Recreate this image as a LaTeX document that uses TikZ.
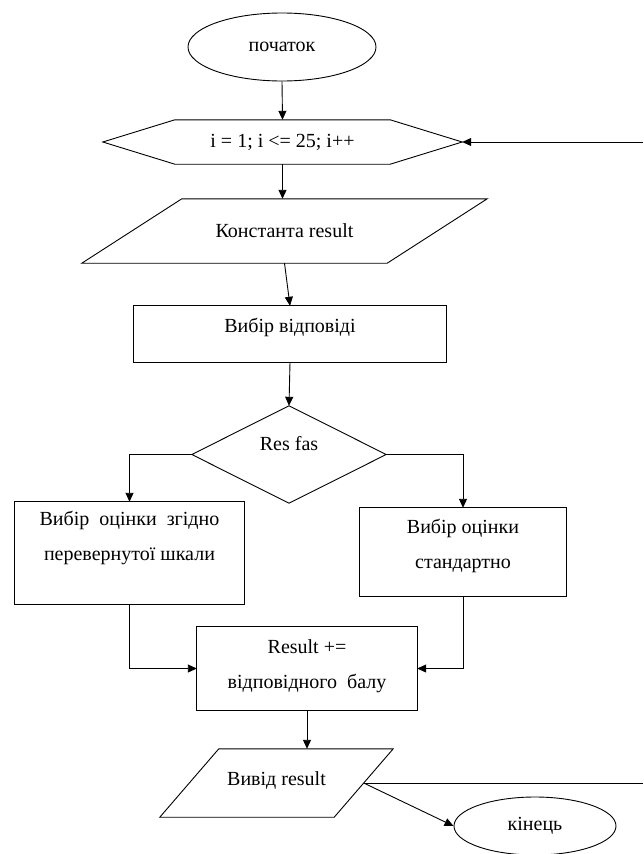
\documentclass[tikz,border=0pt]{standalone}
\usepackage{fontspec}
\setmainfont{Liberation Serif}
\usetikzlibrary{shapes.geometric,arrows.meta,calc}
\newcommand{\liftby}[2]{\raisebox{#1}[\height][\depth]{#2}}
\begin{document}
\begin{tikzpicture}[x=1pt,y=-1pt,
  every node/.style={font=\fontsize{20}{35}\selectfont},
  frame/.style={draw=none,inner sep=0pt,align=center},
  ln/.style={line width=0.9pt},
  arr/.style={ln,-{Triangle[length=9pt,width=8pt]}},
  oval/.style={ellipse,draw,ln,inner sep=0pt}]
\useasboundingbox[fill=white] (0,0) rectangle (643,854);
% nodes
\node[oval,minimum width=188pt,minimum height=68pt] (start) at (282,47) {початок};
\node[frame,minimum width=359pt,minimum height=44pt] (hex) at (282.5,142) {i = 1; i <= 25; i++};
\node[frame,minimum width=405pt,minimum height=64pt] (p1) at (284.5,231) {Константа result};
\node[frame,minimum width=312pt,minimum height=56pt] (r1) at (290,334) {\liftby{6.5pt}{Вибір відповіді}};
\node[frame,minimum width=194pt,minimum height=97pt] (d) at (289,454.5) {\liftby{10.5pt}{Res fas}};
\node[frame,minimum width=229pt,minimum height=102pt] (L) at (129.5,553) {\liftby{17pt}{\begin{tabular}{@{}c@{}}Вибір\ \ оцінки\ \ згідно\\перевернутої шкали\end{tabular}}};
\node[frame,minimum width=206pt,minimum height=88pt] (R) at (463,552) {\liftby{8pt}{\begin{tabular}{@{}c@{}}Вибір оцінки\\стандартно\end{tabular}}};
\node[frame,minimum width=220pt,minimum height=83pt] (B) at (307,668.5) {\liftby{4.5pt}{\begin{tabular}{@{}c@{}}Result +=\\відповідного\ \ балу\end{tabular}}};
\node[frame,minimum width=233pt,minimum height=68pt] (p2) at (276.5,783) {\liftby{2.5pt}{Вивід result}};
\node[oval,minimum width=162pt,minimum height=58pt] (end) at (535,826) {кінець};
% outlines
\draw[ln] (hex.west) -- ($(hex.north west)+(72,0)$) -- ($(hex.north east)-(72,0)$) -- (hex.east)
  -- ($(hex.south east)-(72,0)$) -- ($(hex.south west)+(72,0)$) -- cycle;
\draw[ln] ($(p1.north west)+(100,0)$) -- (p1.north east) -- ($(p1.south east)-(100,0)$) -- (p1.south west) -- cycle;
\draw[ln] (r1.north west) rectangle (r1.south east);
\draw[ln] (d.north) -- (d.east) -- (d.south) -- (d.west) -- cycle;
\draw[ln] (L.north west) rectangle (L.south east);
\draw[ln] (R.north west) rectangle (R.south east);
\draw[ln] (B.north west) rectangle (B.south east);
\draw[ln] ($(p2.north west)+(59,0)$) -- (p2.north east) -- ($(p2.south east)-(59,0)$) -- (p2.south west) -- cycle;
% connectors
\coordinate (out) at ($(p2.east)-(29.5,0)$);
\coordinate (loopR) at (643,783);
\coordinate (loopT) at (643,142);
\draw[arr] (start.south) -- (hex.north);
\draw[arr] (hex.south) -- (hex.south |- p1.north);
\draw[arr] (p1.south) -- (r1.north);
\draw[arr] (r1.south) -- (d.north);
\draw[arr] (d.west) -| (L.north);
\draw[arr] (d.east) -| (R.north);
\draw[arr] (L.south) |- (B.west);
\draw[arr] (R.south) |- (B.east);
\draw[arr] (B.south) -- (B.south |- p2.north);
\draw[arr] (out) -- (end.west);
\draw[ln] (out) -- (loopR);
\draw[arr] (loopT) -- (hex.east);
\end{tikzpicture}
\end{document}
